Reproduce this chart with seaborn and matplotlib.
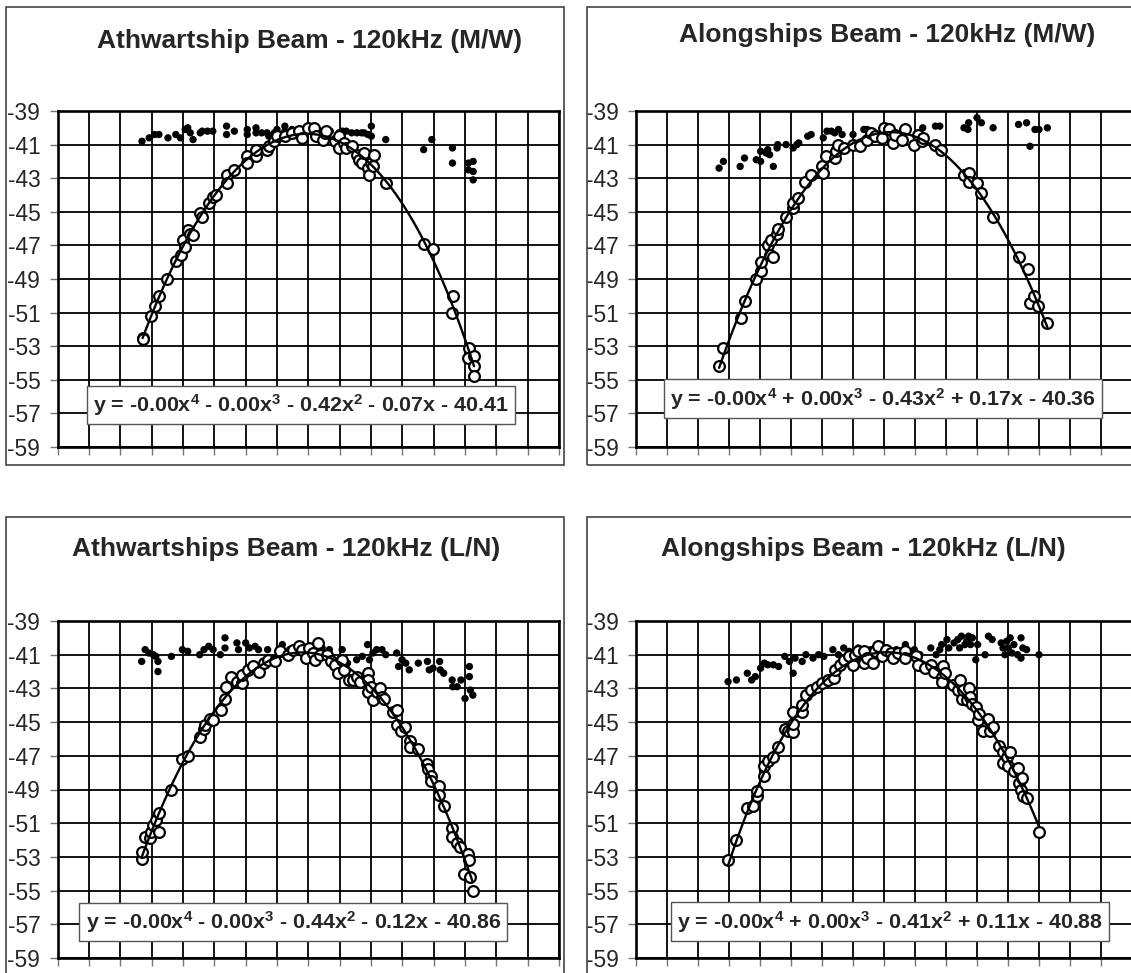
import numpy as np
import pandas as pd
import matplotlib
matplotlib.use("Agg")
import matplotlib.pyplot as plt
from matplotlib.patches import Rectangle
import seaborn as sns

sns.set_style("white")
plt.rcParams['font.family'] = ['Liberation Sans', 'DejaVu Sans']
plt.rcParams['mathtext.fontset'] = 'custom'
plt.rcParams['mathtext.rm'] = 'Liberation Sans:bold'
plt.rcParams['mathtext.default'] = 'rm'

# ---- data (angle in degrees, target strength in dB) ----
# Athwartship M/W
aw_mw_raw_x = [-5.31, -5.08, -4.91, -4.77, -4.48, -4.23, -4.08, -3.93, -3.85, -3.77, -3.68, -3.45, -3.39,
               -3.22, -3.05, -2.61, -2.61, -2.36, -1.95, -1.95, -1.67, -1.67, -1.49, -1.32, -1.26, -1.09,
               -1.0, -0.75, -0.75, -0.52, -0.29, 0.1, 0.4, 0.7, 0.98, 1.09, 1.21, 1.38, 1.55, 1.70, 1.78,
               1.90, 2.01, 2.01, 2.47, 3.68, 3.94, 4.60, 4.60, 5.11, 5.26, 5.11, 5.26, 5.26]
aw_mw_raw_y = [-40.8, -40.6, -40.4, -40.4, -40.6, -40.4, -40.6, -40.1, -40.0, -40.3, -40.7, -40.3, -40.2,
               -40.2, -40.2, -39.9, -40.4, -40.2, -40.1, -40.4, -40.0, -40.3, -40.3, -40.3, -40.5, -40.3,
               -40.1, -39.9, -40.2, -40.1, -40.1, -40.2, -40.3, -40.2, -40.3, -40.2, -40.2, -40.3, -40.3,
               -40.3, -40.3, -40.4, -39.9, -40.5, -40.7, -41.3, -40.7, -41.2, -42.1, -42.1, -42.0, -42.5,
               -42.6, -43.1]
aw_mw_comp_x = [-5.29, -5.29, -5.02, -4.91, -4.77, -4.51, -4.23, -4.08, -4.0, -3.93, -3.85, -3.77, -3.68,
                -3.45, -3.39, -3.18, -3.05, -2.95, -2.61, -2.61, -2.36, -1.95, -1.95, -1.67, -1.67, -1.32,
                -1.26, -1.09, -1.0, -0.75, -0.52, -0.29, -0.2, 0.0, 0.17, 0.23, 0.46, 0.52, 0.57, 0.86,
                0.98, 0.98, 1.15, 1.21, 1.38, 1.55, 1.63, 1.70, 1.78, 1.90, 1.92, 2.01, 2.08, 2.07, 2.47,
                3.68, 3.97, 4.63, 4.60, 5.14, 5.09, 5.29, 5.29, 5.29]
aw_mw_comp_y = [-52.5, -52.6, -51.2, -50.6, -50.0, -49.0, -47.9, -47.6, -46.7, -47.1, -46.1, -46.3, -46.4,
                -45.1, -45.3, -44.5, -44.1, -44.0, -42.8, -43.3, -42.5, -41.7, -42.1, -41.7, -41.3, -41.3,
                -41.1, -40.8, -40.5, -40.5, -40.3, -40.2, -40.6, -40.0, -40.0, -40.5, -40.7, -40.3, -40.2,
                -40.8, -40.5, -41.2, -40.9, -41.2, -41.1, -41.6, -41.9, -42.1, -41.5, -42.4, -42.8, -42.1,
                -41.6, -42.3, -43.3, -46.9, -47.2, -50.0, -51.0, -53.1, -53.7, -53.6, -54.2, -54.8]

# Alongships M/W
al_mw_raw_x = [-5.32, -5.18, -4.64, -4.50, -4.12, -3.98, -3.98, -3.80, -3.75, -3.69, -3.57, -3.45, -3.43,
               -3.16, -2.93, -2.81, -2.75, -2.46, -2.35, -1.96, -1.84, -1.70, -1.59, -1.47, -1.35, -1.0,
               -0.65, -0.54, -0.30, 0.16, 0.69, 1.10, 1.25, 1.66, 1.80, 2.58, 2.71, 2.73, 3.00, 3.14,
               3.52, 4.34, 4.60, 4.71, 4.87, 5.0, 5.27]
al_mw_raw_y = [-42.4, -42.0, -42.3, -41.8, -41.9, -42.0, -41.4, -41.5, -41.3, -41.6, -42.3, -41.2, -41.0,
               -41.0, -41.2, -41.0, -40.9, -40.5, -40.4, -40.6, -40.2, -40.2, -40.3, -40.1, -40.4, -40.4,
               -40.1, -40.1, -40.3, -40.2, -40.1, -40.3, -40.0, -39.9, -39.9, -40.0, -40.1, -39.7, -39.4,
               -39.7, -40.0, -39.8, -39.7, -41.1, -40.1, -40.1, -40.0]
al_mw_comp_x = [-5.32, -5.18, -4.62, -4.50, -4.12, -3.98, -3.98, -3.75, -3.69, -3.57, -3.63, -3.45, -3.43,
                -3.16, -2.95, -2.95, -2.78, -2.54, -2.37, -2.0, -1.96, -1.88, -1.59, -1.56, -1.47, -1.30,
                -1.0, -0.77, -0.54, -0.42, -0.30, -0.07, -0.01, 0.16, 0.28, 0.34, 0.57, 0.69, 0.96, 1.10,
                1.21, 1.27, 1.66, 1.83, 2.58, 2.73, 2.73, 3.00, 3.14, 3.52, 4.34, 4.63, 4.71, 4.83, 4.98,
                5.27]
al_mw_comp_y = [-54.2, -53.1, -51.3, -50.3, -49.0, -48.5, -48.0, -47.0, -47.6, -47.7, -46.7, -46.3, -46.0,
                -45.3, -44.8, -44.5, -44.2, -43.2, -42.8, -42.3, -42.7, -41.7, -41.8, -41.4, -41.0, -41.2,
                -41.0, -41.1, -40.7, -40.3, -40.5, -40.6, -40.0, -40.1, -40.9, -40.4, -40.7, -40.1, -41.0,
                -40.4, -40.8, -40.6, -41.0, -41.3, -42.8, -42.7, -43.2, -43.3, -43.9, -45.3, -47.7, -48.4,
                -50.4, -50.0, -50.6, -51.6]

# Athwartships L/N
aw_ln_raw_x = [-5.32, -5.21, -5.09, -4.95, -4.87, -4.80, -4.80, -4.37, -4.02, -3.85, -3.47, -3.33, -3.18,
               -3.04, -2.81, -2.66, -2.66, -2.28, -2.23, -2.0, -1.88, -1.70, -1.59, -1.30, -0.83, -0.60,
               -0.26, 0.09, 0.44, 0.67, 1.02, 1.08, 1.25, 1.54, 1.72, 1.89, 1.95, 2.06, 2.18, 2.35, 2.47,
               2.82, 2.88, 2.99, 3.11, 3.22, 3.51, 3.80, 3.86, 3.98, 4.19, 4.21, 4.32, 4.59, 4.61, 4.75,
               4.87, 5.0, 5.14, 5.14, 5.17, 5.25]
aw_ln_raw_y = [-41.4, -40.7, -40.9, -41.0, -41.1, -41.4, -42.0, -41.1, -40.7, -40.8, -41.0, -40.7, -40.5,
               -40.7, -41.0, -40.6, -40.0, -40.3, -40.7, -40.3, -40.6, -40.5, -40.7, -40.7, -40.4, -40.7,
               -40.7, -40.7, -40.6, -40.7, -41.2, -40.7, -41.5, -41.3, -41.1, -40.4, -41.3, -40.9, -40.7,
               -40.7, -41.0, -40.9, -41.7, -41.3, -41.5, -41.9, -41.5, -41.4, -41.9, -41.8, -41.4, -41.9,
               -42.1, -42.5, -42.9, -42.9, -42.5, -43.6, -41.7, -42.3, -43.1, -43.4]
aw_ln_comp_x = [-5.32, -5.32, -5.21, -5.07, -5.01, -4.95, -4.86, -4.78, -4.78, -4.37, -4.02, -3.85, -3.47,
                -3.33, -3.30, -3.15, -3.04, -2.78, -2.66, -2.63, -2.46, -2.28, -2.13, -2.11, -1.94, -1.76,
                -1.59, -1.41, -1.30, -1.07, -0.89, -0.66, -0.49, -0.31, -0.20, -0.08, 0.03, 0.15, 0.21,
                0.32, 0.38, 0.61, 0.73, 0.85, 0.96, 1.08, 1.14, 1.31, 1.43, 1.54, 1.66, 1.89, 1.89, 1.89,
                2.01, 2.06, 2.18, 2.30, 2.35, 2.43, 2.70, 2.82, 2.82, 2.97, 3.08, 3.26, 3.26, 3.51, 3.80,
                3.83, 3.90, 3.92, 4.17, 4.17, 4.32, 4.59, 4.59, 4.73, 4.85, 4.96, 5.08, 5.14, 5.17, 5.25]
aw_ln_comp_y = [-53.1, -52.7, -51.8, -51.9, -51.5, -51.1, -50.8, -50.4, -51.5, -49.0, -47.2, -47.0, -45.9,
                -45.4, -45.2, -44.8, -44.9, -44.3, -43.6, -42.9, -42.3, -42.6, -42.7, -42.2, -41.9, -41.7,
                -42.0, -41.5, -41.3, -41.4, -40.8, -41.0, -40.7, -40.5, -40.7, -41.2, -40.6, -40.9, -41.3,
                -40.3, -41.0, -41.0, -41.4, -41.6, -42.1, -41.3, -41.9, -42.5, -42.5, -42.3, -42.6, -42.1,
                -42.5, -43.2, -42.9, -43.7, -43.2, -43.0, -43.5, -43.6, -44.4, -44.3, -45.2, -45.5, -45.3,
                -46.1, -46.5, -46.6, -47.5, -47.8, -48.2, -48.5, -48.8, -49.3, -50.0, -51.3, -51.8, -52.2,
                -52.4, -54.0, -52.8, -53.2, -54.2, -55.0]

# Alongships L/N
al_ln_raw_x = [-5.03, -4.76, -4.41, -4.27, -4.15, -3.98, -3.86, -3.75, -3.57, -3.40, -3.20, -3.05, -2.93,
               -2.87, -2.64, -2.52, -2.29, -2.11, -1.94, -1.65, -1.47, -1.30, -1.12, -0.83, -0.71, -0.42,
               -0.19, 0.11, 0.40, 0.69, 0.98, 1.16, 1.51, 1.68, 1.80, 1.86, 2.03, 2.09, 2.26, 2.38, 2.44,
               2.50, 2.61, 2.67, 2.73, 2.79, 2.85, 2.96, 3.02, 3.26, 3.37, 3.49, 3.78, 3.84, 3.90, 3.96,
               4.01, 4.07, 4.13, 4.19, 4.31, 4.42, 4.42, 4.48, 4.60, 5.0]
al_ln_raw_y = [-42.6, -42.5, -42.1, -42.5, -42.3, -41.8, -41.5, -41.6, -41.6, -41.7, -41.1, -41.4, -42.1,
               -41.2, -41.4, -41.0, -41.2, -41.0, -41.1, -40.7, -41.0, -40.6, -40.8, -40.6, -40.8, -40.7,
               -40.7, -40.7, -40.7, -40.4, -40.7, -41.0, -40.6, -41.0, -40.7, -40.4, -40.1, -40.6, -40.3,
               -40.1, -40.6, -39.9, -40.4, -40.2, -39.9, -40.4, -40.0, -41.3, -40.4, -41.0, -39.9, -40.1,
               -40.3, -40.6, -41.0, -40.2, -40.6, -40.0, -40.9, -40.4, -41.0, -40.0, -41.2, -40.6, -40.7,
               -41.0]
al_ln_comp_x = [-5.03, -4.76, -4.41, -4.24, -4.10, -4.10, -3.86, -3.86, -3.75, -3.57, -3.43, -3.20, -3.10,
                -2.93, -2.93, -2.93, -2.64, -2.64, -2.52, -2.35, -2.17, -2.0, -1.82, -1.61, -1.59, -1.41,
                -1.30, -1.12, -1.0, -0.95, -0.83, -0.65, -0.65, -0.54, -0.36, -0.30, -0.19, -0.07, 0.05,
                0.22, 0.28, 0.46, 0.69, 0.69, 1.04, 1.10, 1.33, 1.51, 1.62, 1.86, 1.86, 1.91, 1.97, 2.21,
                2.38, 2.44, 2.50, 2.56, 2.67, 2.73, 2.79, 2.85, 2.96, 3.02, 3.08, 3.20, 3.37, 3.43, 3.52,
                3.72, 3.84, 3.84, 3.96, 4.01, 4.07, 4.19, 4.31, 4.36, 4.42, 4.46, 4.48, 4.60, 5.0]
al_ln_comp_y = [-53.2, -52.0, -50.1, -50.0, -49.4, -49.1, -48.2, -47.6, -47.3, -47.1, -46.5, -45.4, -45.5,
                -45.6, -45.1, -44.4, -44.4, -44.0, -43.4, -43.1, -42.9, -42.7, -42.5, -42.4, -41.9, -41.6,
                -41.3, -41.1, -41.6, -41.0, -40.8, -41.5, -40.8, -41.2, -41.5, -40.8, -40.5, -41.1, -40.7,
                -40.9, -41.2, -40.9, -40.8, -41.2, -41.1, -41.6, -41.8, -41.6, -42.0, -42.3, -42.6, -41.7,
                -42.1, -42.8, -43.1, -42.5, -43.6, -43.1, -43.7, -43.0, -43.5, -43.9, -44.1, -44.9, -44.5,
                -45.5, -44.8, -45.5, -45.3, -46.4, -46.8, -47.4, -47.1, -47.6, -46.8, -47.9, -47.7, -48.6,
                -49.0, -48.3, -49.4, -49.5, -51.5]

titles = ["Athwartship Beam - 120kHz (M/W)", "Alongships Beam - 120kHz (M/W)",
          "Athwartships Beam - 120kHz (L/N)", "Alongships Beam - 120kHz (L/N)"]
equations = [
    r"y = -0.00x$^{4}$ - 0.00x$^{3}$ - 0.42x$^{2}$ - 0.07x - 40.41",
    r"y = -0.00x$^{4}$ + 0.00x$^{3}$ - 0.43x$^{2}$ + 0.17x - 40.36",
    r"y = -0.00x$^{4}$ - 0.00x$^{3}$ - 0.44x$^{2}$ - 0.12x - 40.86",
    r"y = -0.00x$^{4}$ + 0.00x$^{3}$ - 0.41x$^{2}$ + 0.11x - 40.88",
]
y_ticks = list(range(-59, -38, 2))
x_ticks = list(range(-8, 9))

panels = [
    (aw_mw_raw_x, aw_mw_raw_y, aw_mw_comp_x, aw_mw_comp_y),
    (al_mw_raw_x, al_mw_raw_y, al_mw_comp_x, al_mw_comp_y),
    (aw_ln_raw_x, aw_ln_raw_y, aw_ln_comp_x, aw_ln_comp_y),
    (al_ln_raw_x, al_ln_raw_y, al_ln_comp_x, al_ln_comp_y),
]

W, H = 1131, 973
fig = plt.figure(figsize=(W / 100, H / 100), dpi=100)

# layout in pixels: frame left/top, axes left/right/top/bottom, title centre, equation centre (axes fraction)
layout = [
    (6, 7, 57.7, 559, 111, 447, 310, 41, 0.485, 0.125),
    (587, 7, 636, 1132, 111, 447, 887, 35, 0.498, 0.144),
    (6, 517, 57.7, 559, 621, 958, 286, 549, 0.470, 0.107),
    (587, 517, 636, 1132, 621, 958, 863, 549, 0.512, 0.108),
]

for (rx, ry, cx, cy), title, eq, lay in zip(panels, titles, equations, layout):
    fl, ft, al, ar, at, ab, tx, ty, ex, ey = lay
    fig.patches.append(Rectangle((fl / W, 1 - (ft + 458) / H), 558 / W, 458 / H,
                                 transform=fig.transFigure, fill=False,
                                 edgecolor='#444444', linewidth=1.2, zorder=0))
    ax = fig.add_axes([al / W, 1 - ab / H, (ar - al) / W, (ab - at) / H])
    raw = pd.DataFrame({'angle': rx, 'ts': ry})
    comp = pd.DataFrame({'angle': cx, 'ts': cy})
    sns.scatterplot(data=raw, x='angle', y='ts', ax=ax, color='black', s=28,
                    edgecolor='none', zorder=3)
    sns.scatterplot(data=comp, x='angle', y='ts', ax=ax, facecolor='white',
                    edgecolor='black', linewidth=1.6, s=60, zorder=4)
    sns.regplot(data=comp, x='angle', y='ts', ax=ax, order=4, ci=None, scatter=False,
                line_kws={'color': 'black', 'lw': 1.7, 'zorder': 5})

    ax.set_xlim(-8, 8)
    ax.set_ylim(-59, -39)
    ax.set_xticks(x_ticks)
    ax.set_yticks(y_ticks)
    ax.set_xticklabels([])
    ax.set_yticklabels([str(t) for t in y_ticks], fontsize=16.4)
    ax.set_xlabel('')
    ax.set_ylabel('')
    ax.grid(True, color='black', linewidth=1.3)
    ax.set_axisbelow(True)
    for sp in ax.spines.values():
        sp.set_color('black')
        sp.set_linewidth(1.9)
    ax.tick_params(axis='both', direction='out', length=6, width=1, color='#777777',
                   pad=6.5, bottom=True, left=True)

    fig.text(tx / W, 1 - ty / H, title, ha='center', va='center', fontsize=19,
             fontweight='bold')
    ax.text(ex, ey, eq, transform=ax.transAxes, ha='center', va='center', fontsize=15.4,
            fontweight='bold', zorder=6,
            bbox=dict(boxstyle='square,pad=0.3', facecolor='white', edgecolor='#555555',
                      linewidth=1))

fig.savefig('out.png', dpi=100)
